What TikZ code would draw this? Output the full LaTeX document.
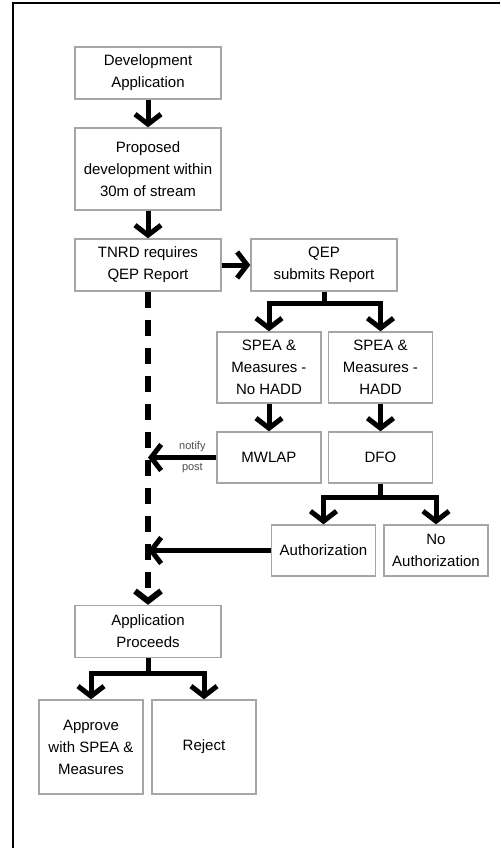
\documentclass[tikz,border=0pt]{standalone}
\usepackage{fontspec}
\setmainfont{Liberation Sans}
\usetikzlibrary{arrows.meta}

\tikzset{
  box/.style={draw=black!35, line width=0.7pt, align=center, inner sep=0pt,
    font=\fontsize{7.5}{11}\selectfont, minimum width=73pt, minimum height=26pt},
  smallbox/.style={box, minimum width=52pt},
  flowarrow/.style={line width=2.5pt, -{Straight Barb[length=5pt,width=13pt]}},
  tag/.style={font=\fontsize{5.5}{6}\selectfont, text=black!70, inner sep=1.5pt}
}

\begin{document}
\begin{tikzpicture}[x=0.5pt, y=-0.5pt]
            \useasboundingbox (0,0) rectangle (500,848);
            \draw[line width=1pt] (13,848) -- (13,3) -- (500,3);

            \begin{scope}
                \node[box] (devapp) at (148,73) {Development\\Application};
                \node[box, minimum height=41pt] (proposed) at (148,169) {Proposed\\development within\\30m of stream};
                \node[box] (tnrd) at (148,265) {TNRD requires\\QEP Report};
                \node[box] (qep) at (324,265) {QEP\\submits Report};
                \node[smallbox, minimum height=35.5pt] (nohadd) at (269,367.5) {SPEA \&\\Measures -\\No HADD};
                \node[smallbox, minimum height=35.5pt] (hadd) at (380.5,367.5) {SPEA \&\\Measures -\\HADD};
                \node[smallbox, minimum height=25.5pt] (mwlap) at (269,457.5) {MWLAP};
                \node[smallbox, minimum height=25.5pt] (dfo) at (380.5,457.5) {DFO};
                \node[smallbox, minimum height=25.5pt] (auth) at (323.5,550.5) {Authorization};
                \node[smallbox, minimum height=25.5pt] (noauth) at (436,550.5) {No\\Authorization};
                \node[box] (proceeds) at (148,631.5) {Application\\Proceeds};
                \node[smallbox, minimum height=47pt] (approve) at (91,747) {Approve\\with SPEA \&\\Measures};
                \node[smallbox, minimum height=47pt] (reject) at (204,747) {Reject};
            \end{scope}

            \begin{scope}[every path/.style={flowarrow}]
                \draw (devapp) -- (proposed);
                \draw (proposed) -- (tnrd);
                \draw (tnrd) -- (qep);
                \draw (qep.south) -- ++(0,12) -| (nohadd.north);
                \draw (qep.south) -- ++(0,12) -| (hadd.north);
                \draw (nohadd) -- (mwlap);
                \draw (hadd) -- (dfo);
                \draw (dfo.south) -- ++(0,14) -| (auth.north);
                \draw (dfo.south) -- ++(0,14) -| (noauth.north);
                \draw (mwlap.west) -- (mwlap.west -| tnrd.south)
                    node[tag, pos=0.35, above] {notify}
                    node[tag, pos=0.35, below] {post};
                \draw (auth.west) -- (auth.west -| tnrd.south);
                \draw[line width=3pt, dash pattern=on 8pt off 6pt] (tnrd) -- (proceeds);
                \draw (proceeds.south) -- ++(0,15) -| (approve.north);
                \draw (proceeds.south) -- ++(0,15) -| (reject.north);
            \end{scope}
        \end{tikzpicture}
\end{document}
